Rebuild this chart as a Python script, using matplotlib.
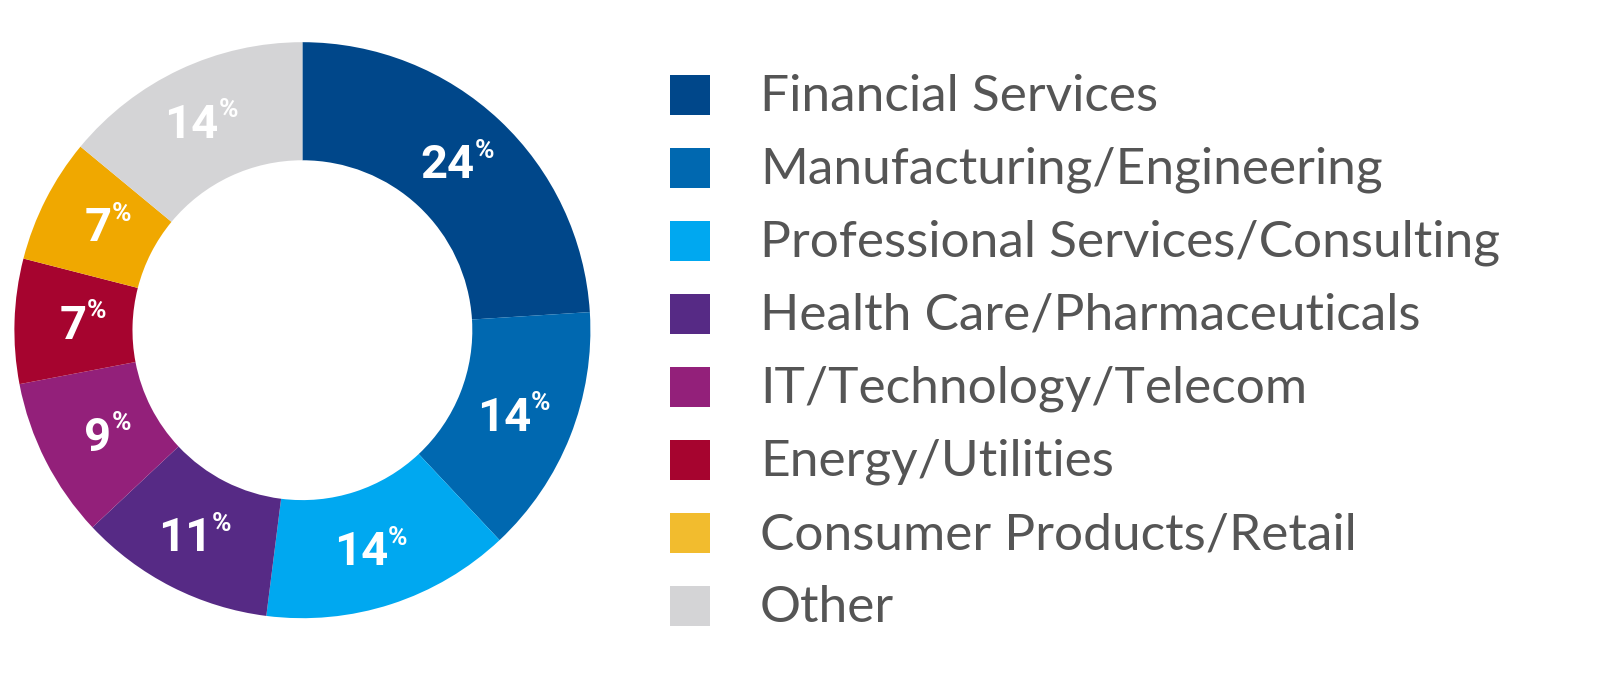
import matplotlib
matplotlib.use("Agg")
import matplotlib.pyplot as plt
from matplotlib.patches import Rectangle
import numpy as np

categories = ["Financial Services", "Manufacturing/Engineering", "Professional Services/Consulting",
              "Health Care/Pharmaceuticals", "IT/Technology/Telecom", "Energy/Utilities",
              "Consumer Products/Retail", "Other"]
values = [24, 14, 14, 11, 9, 7, 7, 14]
colors = ["#00478a", "#0068b0", "#00a8f0", "#562a85", "#93207a", "#a6042f", "#f0a800", "#d4d4d6"]
legend_colors = ["#00478a", "#0068b0", "#00a8f0", "#562a85", "#93207a", "#a6042f", "#f2bc2e", "#d4d4d6"]

fig = plt.figure(figsize=(16, 6.78), dpi=100)
ax = fig.add_axes([0.009, 0.088, 0.36, 0.85])
wedges, _ = ax.pie(values, colors=colors, startangle=90, counterclock=False,
                   radius=1, wedgeprops=dict(width=0.41, linewidth=0))
ax.set_aspect("equal")
ax.set_xlim(-1, 1); ax.set_ylim(-1, 1)
num_font = ["Roboto", "DejaVu Sans"]
for w, v in zip(wedges, values):
    ang = np.deg2rad((w.theta1 + w.theta2) / 2)
    r = 0.8
    x, y = r * np.cos(ang), r * np.sin(ang)
    ax.text(x + 0.05, y - 0.01, str(v), ha="right", va="center", color="white",
            fontsize=34, fontweight="bold", family=num_font)
    ax.text(x + 0.05, y + 0.04, "%", ha="left", va="center", color="white",
            fontsize=19, fontweight="bold", family=num_font)

lax = fig.add_axes([0, 0, 1, 1])
lax.set_xlim(0, 1600); lax.set_ylim(678, 0); lax.axis("off")
for i, (c, lc) in enumerate(zip(categories, legend_colors)):
    yc = 95 + i * 73
    lax.add_patch(Rectangle((670, yc - 20), 40, 40, color=lc, lw=0))
    lax.text(760, yc + 2, c, ha="left", va="center", fontsize=37,
             color="#555555", family=["Lato", "DejaVu Sans"])

fig.savefig("out.png", dpi=100)
